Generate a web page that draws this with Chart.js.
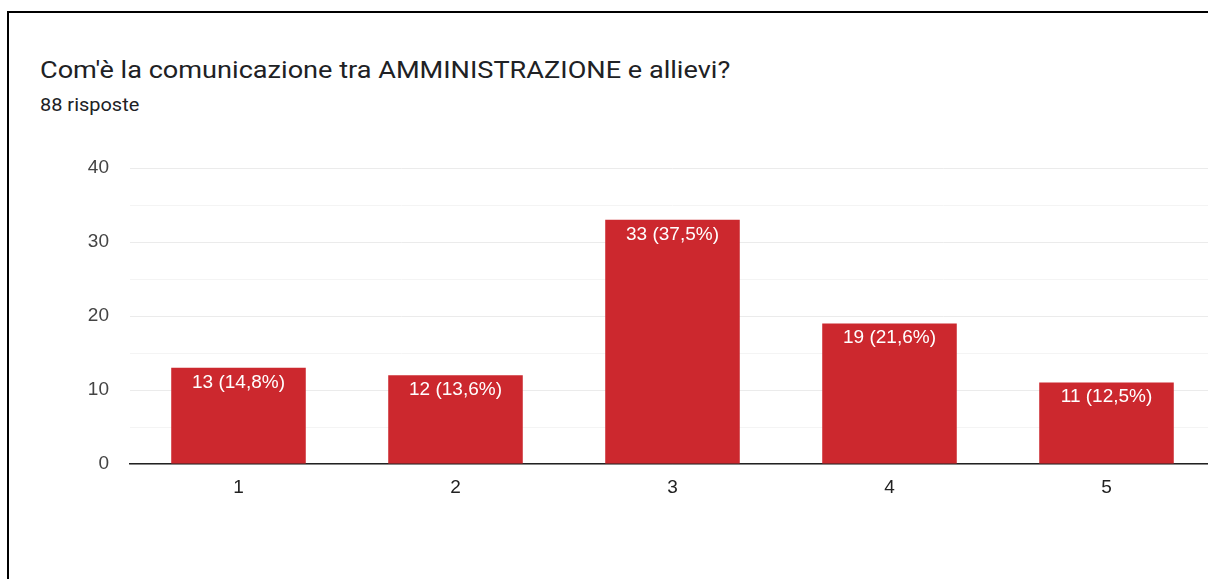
<!DOCTYPE html>
<html>
<head>
<meta charset="utf-8">
<script src="https://cdn.jsdelivr.net/npm/chart.js@4.4.1/dist/chart.umd.min.js"></script>
<style>
  html, body { margin: 0; padding: 0; width: 1208px; height: 579px; overflow: hidden; background: #fff; }
  #frame { position: absolute; left: 7px; top: 11px; width: 1300px; height: 700px; border-left: 2px solid #000; border-top: 2px solid #000; }
  #title { position: absolute; left: 40px; top: 56px; font-family: Roboto, "Open Sans", sans-serif; font-size: 24px; line-height: 28px; color: #202124; white-space: nowrap; transform: scaleX(1.13); transform-origin: 0 0; }
  #subtitle { position: absolute; left: 40px; top: 94px; font-family: Roboto, sans-serif; font-size: 19px; line-height: 22px; color: #202124; white-space: nowrap; transform: scaleX(1.05); transform-origin: 0 0; }
  #wrap { position: absolute; left: 0; top: 0; width: 1240px; height: 579px; }
</style>
</head>
<body>
<div id="frame"></div>
<div id="title">Com'è la comunicazione tra AMMINISTRAZIONE e allievi?</div>
<div id="subtitle">88 risposte</div>
<div id="wrap"><canvas id="c" width="1240" height="579"></canvas></div>
<script>
const categories = ["1", "2", "3", "4", "5"];
const counts = [13, 12, 33, 19, 11];
const percents = ["14,8%", "13,6%", "37,5%", "21,6%", "12,5%"];
const yTicks = [0, 10, 20, 30, 40];

const barLabels = {
  id: 'barLabels',
  afterDatasetsDraw(chart) {
    const ctx = chart.ctx;
    const meta = chart.getDatasetMeta(0);
    ctx.save();
    ctx.fillStyle = '#ffffff';
    ctx.font = '19px "Liberation Sans", Arial, sans-serif';
    ctx.textAlign = 'center';
    ctx.textBaseline = 'top';
    meta.data.forEach((bar, i) => {
      ctx.fillText(counts[i] + ' (' + percents[i] + ')', bar.x, bar.y + 5);
    });
    ctx.restore();
  }
};

new Chart(document.getElementById('c'), {
  type: 'bar',
  data: {
    labels: categories,
    datasets: [{
      data: counts,
      backgroundColor: '#cc282e',
      borderWidth: 0,
      barPercentage: 0.62,
      categoryPercentage: 1.0
    }]
  },
  options: {
    responsive: false,
    animation: false,
    layout: { padding: { left: 0, top: 168, right: 25, bottom: 0 } },
    plugins: { legend: { display: false }, tooltip: { enabled: false } },
    scales: {
      x: {
        grid: { display: false, drawTicks: false },
        border: { display: true, color: '#222222', width: 1.5 },
        ticks: { color: '#222222', padding: 12, font: { family: '"Liberation Sans", Arial, sans-serif', size: 19 } },
        afterFit(scale) { scale.height = 115; }
      },
      y: {
        min: 0, max: 40,
        afterBuildTicks(scale) {
          const t = [];
          for (let v = 0; v <= 40; v += 5) t.push({ value: v });
          scale.ticks = t;
        },
        grid: {
          drawTicks: false,
          color: ctx => (ctx.tick && ctx.tick.value % 10 === 0) ? '#ebebeb' : '#f4f4f4',
          lineWidth: 1
        },
        border: { display: false },
        ticks: {
          color: '#444444',
          padding: 21,
          font: { family: '"Liberation Sans", Arial, sans-serif', size: 19 },
          callback: v => yTicks.includes(v) ? String(v) : ''
        },
        afterFit(scale) { scale.width = 130; }
      }
    }
  },
  plugins: [barLabels]
});
</script>
</body>
</html>
